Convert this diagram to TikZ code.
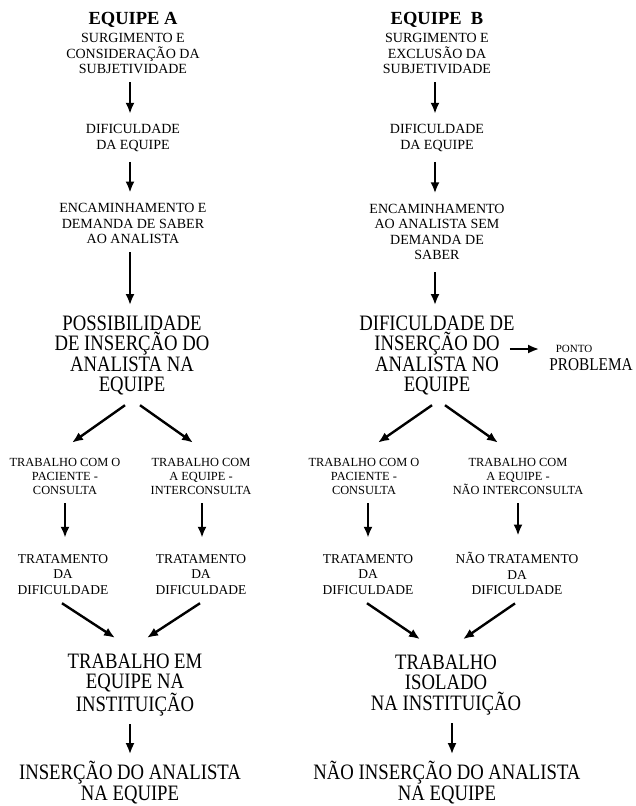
\documentclass[tikz,border=0pt]{standalone}
\usepackage{fontspec}
\setmainfont{Liberation Serif}
\newfontfamily\bigfam[FakeStretch=0.85]{Liberation Serif}
\usetikzlibrary{arrows.meta}
\tikzstyle{HeadNode}=[inner sep=0pt, font=\fontsize{18.5}{20}\selectfont\bfseries]
\tikzstyle{StepNode}=[align=center, inner sep=0pt, font=\fontsize{14}{15.6}\selectfont]
\tikzstyle{BranchNode}=[StepNode, font=\fontsize{12.4}{14}\selectfont]
\tikzstyle{TreatNode}=[StepNode, font=\fontsize{13.5}{15.5}\selectfont]
\tikzstyle{BigNode}=[StepNode, font=\bigfam\fontsize{22}{20.3}\selectfont]
\tikzstyle{NoteNode}=[inner sep=0pt, font=\fontsize{11}{12}\selectfont]
\tikzstyle{Flow}=[->, line width=2.4pt]
\tikzset{>={Latex[length=11pt,width=9pt]}}

\begin{document}
\begin{tikzpicture}[x=1pt,y=-1pt]
\useasboundingbox (0,0) rectangle (635,806);

\node[HeadNode](hA) at (133,19.5) {EQUIPE A};
\node[StepNode](a1) at (133,53.5) {SURGIMENTO E\\CONSIDERAÇÃO DA\\SUBJETIVIDADE};
\node[StepNode](a2) at (133,138) {DIFICULDADE\\DA EQUIPE};
\node[StepNode](a3) at (133,223.5) {ENCAMINHAMENTO E\\DEMANDA DE SABER\\AO ANALISTA};
\node[BigNode](a4) at (132,355.5) {POSSIBILIDADE\\DE INSERÇÃO DO\\ANALISTA NA\\EQUIPE};
\node[BranchNode](a5) at (65,476) {TRABALHO COM O\\PACIENTE -\\CONSULTA};
\node[BranchNode](a6) at (201,476) {TRABALHO COM\\A EQUIPE -\\INTERCONSULTA};
\node[TreatNode](a7) at (63,574.5) {TRATAMENTO\\DA\\DIFICULDADE};
\node[TreatNode](a8) at (201,574.5) {TRATAMENTO\\DA\\DIFICULDADE};
\node[BigNode](a9) at (135,685) {TRABALHO EM\\EQUIPE NA\\INSTITUIÇÃO};
\node[BigNode](a10) at (130,782.5) {INSERÇÃO DO ANALISTA\\NA EQUIPE};

\node[HeadNode](hB) at (437,19.5) {EQUIPE\ \ B};
\node[StepNode](b1) at (437,53.5) {SURGIMENTO E\\EXCLUSÃO DA\\SUBJETIVIDADE};
\node[StepNode](b2) at (437,138) {DIFICULDADE\\DA EQUIPE};
\node[StepNode](b3) at (437,232) {ENCAMINHAMENTO\\AO ANALISTA SEM\\DEMANDA DE\\SABER};
\node[BigNode](b4) at (437,355.5) {DIFICULDADE DE\\INSERÇÃO DO\\ANALISTA NO\\EQUIPE};
\node[NoteNode](pt1) at (574,349) {PONTO};
\node[BigNode, font=\bigfam\fontsize{18}{20}\selectfont](pt2) at (591,365) {PROBLEMA};
\node[BranchNode](b5) at (364,476) {TRABALHO COM O\\PACIENTE -\\CONSULTA};
\node[BranchNode](b6) at (518,476) {TRABALHO COM\\A EQUIPE -\\NÃO INTERCONSULTA};
\node[TreatNode](b7) at (368,574.5) {TRATAMENTO\\DA\\DIFICULDADE};
\node[TreatNode](b8) at (517,573.5) {NÃO TRATAMENTO\\DA\\DIFICULDADE};
\node[BigNode](b9) at (446,685) {TRABALHO\\ISOLADO\\NA INSTITUIÇÃO};
\node[BigNode](b10) at (447,782.5) {NÃO INSERÇÃO DO ANALISTA\\NA EQUIPE};

\draw[Flow]([shift={(-3,8.4)}]a1.south) -- ([shift={(-3,-10.4)}]a2.north);
\draw[Flow]([shift={(-3,10)}]a2.south) -- ([shift={(-3,-10.4)}]a3.north);
\draw[Flow]([shift={(-3,8.4)}]a3.south) -- ([shift={(-2,-10.7)}]a4.north);
\draw[Flow]([shift={(-7,10)}]a4.south) -- ([shift={(7,-15)}]a5.north);
\draw[Flow]([shift={(8,10)}]a4.south) -- ([shift={(-8,-15)}]a6.north);
\draw[Flow]([shift={(0,9)}]a5.south) -- ([shift={(0,-16.5)}]a5.south |- a7.north);
\draw[Flow]([shift={(1,9)}]a6.south) -- ([shift={(1,-16.5)}]a6.south |- a8.north);
\draw[Flow]([shift={(-1,8.5)}]a7.south) -- ([shift={(-20,-15.7)}]a9.north);
\draw[Flow]([shift={(-1,8.5)}]a8.south) -- ([shift={(12,-15.7)}]a9.north);
\draw[Flow]([shift={(-5,8)}]a9.south) -- ([shift={(0,-7)}]a10.north);

\draw[Flow]([shift={(-2,8.4)}]b1.south) -- ([shift={(-2,-10.4)}]b2.north);
\draw[Flow]([shift={(-2,10)}]b2.south) -- ([shift={(-2,-10.4)}]b3.north);
\draw[Flow]([shift={(-2,12)}]b3.south) -- ([shift={(-2,-10.7)}]b4.north);
\draw[Flow, shorten <=-5pt, shorten >=10pt](b4.east |- pt1) -- (pt2.west |- pt1);
\draw[Flow]([shift={(-5,10)}]b4.south) -- ([shift={(14,-15)}]b5.north);
\draw[Flow]([shift={(8,10)}]b4.south) -- ([shift={(-20,-15)}]b6.north);
\draw[Flow]([shift={(4,9)}]b5.south) -- ([shift={(4,-16.5)}]b5.south |- b7.north);
\draw[Flow]([shift={(0,9)}]b6.south) -- ([shift={(0,-16.5)}]b6.south |- b8.north);
\draw[Flow]([shift={(-1,8.5)}]b7.south) -- ([shift={(-26,-15.7)}]b9.north);
\draw[Flow]([shift={(-2,8.5)}]b8.south) -- ([shift={(17,-15.7)}]b9.north);
\draw[Flow]([shift={(6,8)}]b9.south) -- ([shift={(5,-7)}]b10.north);
\end{tikzpicture}
\end{document}
